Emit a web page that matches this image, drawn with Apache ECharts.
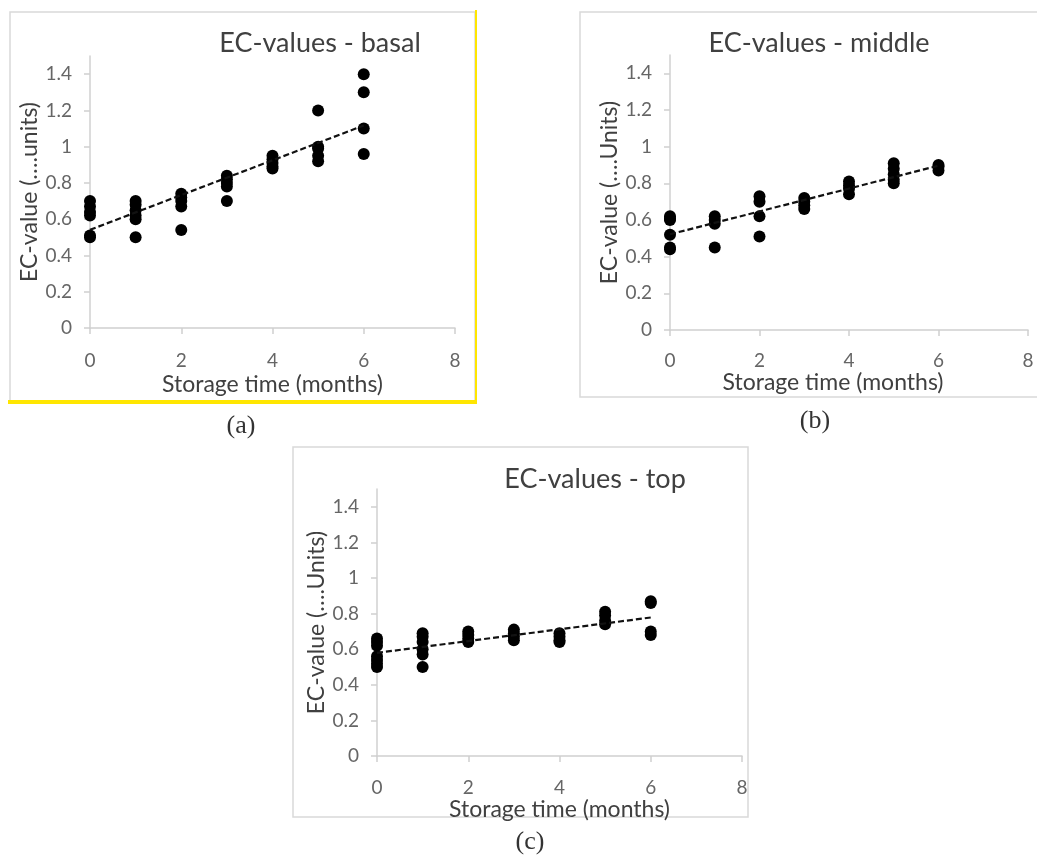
<!DOCTYPE html>
<html>
<head>
<meta charset="utf-8">
<script src="https://cdn.jsdelivr.net/npm/echarts@6/dist/echarts.min.js"></script>
<style>
  html, body { margin: 0; padding: 0; background: #fff; }
  #chart { width: 1037px; height: 855px; }
</style>
</head>
<body>
<div id="chart"></div>
<script>
// storage months and EC readings per panel (one array of readings per month)
const months = [0, 1, 2, 3, 4, 5, 6];
const basalValues = [
  [0.70, 0.67, 0.64, 0.62, 0.51, 0.50],
  [0.70, 0.68, 0.65, 0.62, 0.60, 0.50],
  [0.74, 0.72, 0.70, 0.67, 0.54],
  [0.84, 0.82, 0.80, 0.78, 0.70],
  [0.95, 0.93, 0.91, 0.89, 0.88],
  [1.20, 1.00, 0.99, 0.95, 0.92],
  [1.40, 1.30, 1.10, 0.96]
];
const middleValues = [
  [0.62, 0.61, 0.60, 0.52, 0.45, 0.44],
  [0.62, 0.60, 0.58, 0.45],
  [0.73, 0.70, 0.62, 0.51],
  [0.72, 0.70, 0.68, 0.66],
  [0.81, 0.79, 0.77, 0.74],
  [0.91, 0.88, 0.85, 0.82, 0.80],
  [0.90, 0.89, 0.87]
];
const topValues = [
  [0.66, 0.64, 0.62, 0.56, 0.54, 0.52, 0.50],
  [0.69, 0.67, 0.64, 0.60, 0.57, 0.50],
  [0.70, 0.68, 0.66, 0.64],
  [0.71, 0.69, 0.67, 0.65],
  [0.69, 0.67, 0.65, 0.64],
  [0.81, 0.79, 0.76, 0.74],
  [0.87, 0.86, 0.70, 0.68]
];
const yTicks = [0, 0.2, 0.4, 0.6, 0.8, 1, 1.2, 1.4];
const xTicks = [0, 2, 4, 6, 8];

const panels = [
  { title: 'EC-values - basal', yName: 'EC-value (….units)', values: basalValues,
    grid: { left: 90, top: 56, width: 365, height: 272 }, titleX: 315, titleY: 25,
    xLabelMargin: 23, xNameGap: 45, xNamePad: 0, yNameGap: 45 },
  { title: 'EC-values - middle', yName: 'EC-value (….Units)', values: middleValues,
    grid: { left: 670, top: 55, width: 358, height: 275 }, titleX: 814, titleY: 25,
    xLabelMargin: 21, xNameGap: 39, xNamePad: 32, yNameGap: 45 },
  { title: 'EC-values - top', yName: 'EC-value (….Units)', values: topValues,
    grid: { left: 377, top: 489, width: 365, height: 267 }, titleX: 590, titleY: 461,
    xLabelMargin: 22, xNameGap: 28, xNamePad: 0, yNameGap: 43 }
];

const font = 'Lato, "Open Sans", sans-serif';
const serif = '26px "Liberation Serif", serif';

function toPoints(values) {
  const pts = [];
  values.forEach((arr, i) => arr.forEach(v => pts.push([months[i], v])));
  return pts;
}

// least squares trend line, like the spreadsheet's linear trendline
function trend(pts) {
  const n = pts.length;
  let sx = 0, sy = 0, sxx = 0, sxy = 0;
  pts.forEach(p => { sx += p[0]; sy += p[1]; sxx += p[0] * p[0]; sxy += p[0] * p[1]; });
  const b = (n * sxy - sx * sy) / (n * sxx - sx * sx);
  const a = (sy - b * sx) / n;
  const x0 = months[0], x1 = months[months.length - 1];
  return [[x0, a + b * x0], [x1, a + b * x1]];
}

const option = {
  animation: false,
  title: [],
  grid: [],
  xAxis: [],
  yAxis: [],
  series: [],
  graphic: [
    { type: 'rect', shape: { x: 10, y: 12, width: 465, height: 389 },
      style: { fill: 'none', stroke: '#d9d9d9', lineWidth: 1.5 } },
    { type: 'line', shape: { x1: 476, y1: 10, x2: 476, y2: 402 },
      style: { stroke: '#ffe600', lineWidth: 2 } },
    { type: 'line', shape: { x1: 8, y1: 402, x2: 477, y2: 402 },
      style: { stroke: '#ffe600', lineWidth: 4 } },
    { type: 'rect', shape: { x: 580, y: 12, width: 470, height: 385 },
      style: { fill: 'none', stroke: '#d9d9d9', lineWidth: 1.5 } },
    { type: 'rect', shape: { x: 293, y: 447, width: 455, height: 370 },
      style: { fill: 'none', stroke: '#d9d9d9', lineWidth: 1.5 } },
    { type: 'text', x: 241, y: 426, style: { text: '(a)', font: serif, fill: '#333', align: 'center', verticalAlign: 'middle' } },
    { type: 'text', x: 815, y: 421, style: { text: '(b)', font: serif, fill: '#333', align: 'center', verticalAlign: 'middle' } },
    { type: 'text', x: 530, y: 842, style: { text: '(c)', font: serif, fill: '#333', align: 'center', verticalAlign: 'middle' } }
  ]
};

panels.forEach((p, i) => {
  option.title.push({
    text: p.title, left: p.titleX, top: p.titleY, textAlign: 'center',
    textStyle: { fontFamily: font, fontSize: 27, fontWeight: 'normal', color: '#404040' }
  });
  option.grid.push(p.grid);
  option.xAxis.push({
    gridIndex: i, type: 'value', min: 0, max: 8, interval: 2,
    name: 'Storage time (months)', nameLocation: 'middle', nameGap: p.xNameGap,
    nameTextStyle: { fontFamily: font, fontSize: 23, color: '#404040', padding: [0, p.xNamePad, 0, 0] },
    axisLine: { lineStyle: { color: '#d0d0d0', width: 1.5 } },
    axisTick: { show: true, length: 6, customValues: xTicks, lineStyle: { color: '#d0d0d0', width: 1.5 } },
    axisLabel: { customValues: xTicks, fontFamily: font, fontSize: 19, color: '#666', margin: p.xLabelMargin },
    splitLine: { show: false }
  });
  option.yAxis.push({
    gridIndex: i, type: 'value', min: 0, max: 1.5,
    name: p.yName, nameLocation: 'middle', nameGap: p.yNameGap, nameRotate: 90,
    nameTextStyle: { fontFamily: font, fontSize: 23, color: '#404040' },
    axisLine: { show: true, lineStyle: { color: '#d0d0d0', width: 1.5 } },
    axisTick: { show: true, length: 6, customValues: yTicks, lineStyle: { color: '#d0d0d0', width: 1.5 } },
    axisLabel: { customValues: yTicks, fontFamily: font, fontSize: 19, color: '#666', margin: 18 },
    splitLine: { show: false }
  });
  const pts = toPoints(p.values);
  option.series.push({
    type: 'scatter', xAxisIndex: i, yAxisIndex: i, data: pts,
    symbol: 'circle', symbolSize: 12, itemStyle: { color: '#000', opacity: 1 }
  });
  option.series.push({
    type: 'line', xAxisIndex: i, yAxisIndex: i, data: trend(pts),
    symbol: 'none', lineStyle: { color: '#111', width: 2.2, type: [6, 3] }, z: 3
  });
});

const chart = echarts.init(document.getElementById('chart'));
chart.setOption(option);
</script>
</body>
</html>
